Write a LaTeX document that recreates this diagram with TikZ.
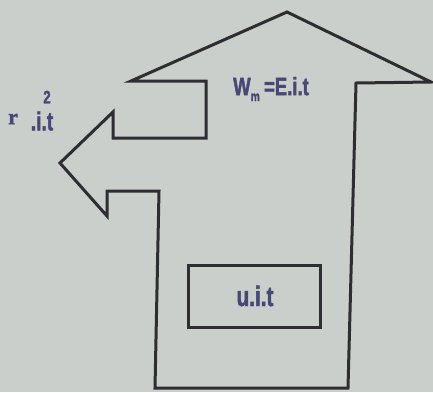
\documentclass[tikz,border=0pt]{standalone}
\usepackage{fontspec}
\setmainfont{Liberation Sans}
\newfontfamily\lblfont{Liberation Sans}[FakeStretch=0.74,BoldFeatures={FakeBold=1.6}]
\newfontfamily\serifbold{Liberation Serif}[BoldFeatures={FakeBold=1.5}]
\definecolor{bgc}{RGB}{203,207,203}
\definecolor{linec}{RGB}{45,45,50}
\definecolor{txtc}{RGB}{72,72,118}
\tikzset{
  outline/.style={draw=linec,line width=3pt,line join=miter},
  lbl/.style={text=txtc,inner sep=0pt},
}
\begin{document}
\begin{tikzpicture}[x=1pt,y=-1pt]
\fill[bgc] (0,0) rectangle (433,392);
\useasboundingbox (0,0) rectangle (433,392);
\draw[outline] (155,388) -- (348,388) -- (356,83) -- (431,82) -- (287,12)
  -- (131,81) -- (206,81) -- (206,138) -- (113,138) -- (113,112) -- (60,163)
  -- (107,216) -- (107,191) -- (159,191) -- cycle;
\draw[outline] (188,265) rectangle (320,327);
\node[lbl,font=\lblfont\bfseries\fontsize{28}{28}\selectfont] (uit) at (255,296) {u.i.t};
\node[lbl,font=\lblfont\bfseries\fontsize{25}{25}\selectfont] (wm) at (271,89) {W\raisebox{-0.45ex}{\fontsize{14}{14}\selectfont m}\,=E.i.t};
\node[lbl,font=\serifbold\bfseries\fontsize{22}{22}\selectfont] (r) at (13,119) {r};
\node[lbl,font=\lblfont\bfseries\fontsize{26}{26}\selectfont] (it) at (42,121) {.i.t};
\node[lbl,font=\lblfont\bfseries\fontsize{18}{18}\selectfont] (two) at (47,97) {2};
\end{tikzpicture}
\end{document}
